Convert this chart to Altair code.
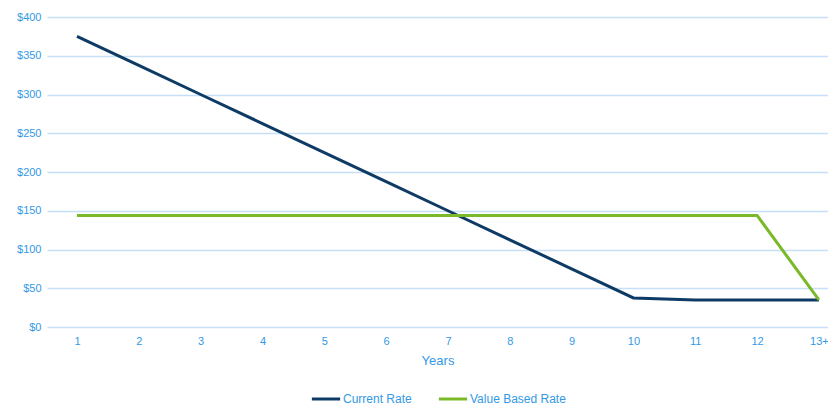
import altair as alt
import pandas as pd

years = ["1", "2", "3", "4", "5", "6", "7", "8", "9", "10", "11", "12", "13+"]
current_rate = [375, 337.5, 300, 262.5, 225, 187.5, 150, 112.5, 75, 37.5, 35, 35, 35]
value_based_rate = [144, 144, 144, 144, 144, 144, 144, 144, 144, 144, 144, 144, 35]
series_names = ["Current Rate", "Value Based Rate"]
series_colors = ["#0E3B65", "#7AB929"]

rows = []
for name, vals in zip(series_names, [current_rate, value_based_rate]):
    for i, (y, v) in enumerate(zip(years, vals)):
        rows.append({"idx": i + 1, "year": y, "value": v, "series": name})
df = pd.DataFrame(rows)

label_arr = "[" + ",".join("'" + y + "'" for y in years) + "]"
blue = "#3399E6"
font = "Liberation Sans"

chart = alt.Chart(df).mark_line(strokeWidth=3).encode(
    x=alt.X("idx:Q",
            scale=alt.Scale(domain=[0.515, 13.147], nice=False, zero=False),
            axis=alt.Axis(values=list(range(1, len(years) + 1)),
                          labelExpr=label_arr + "[datum.value - 1]",
                          title="Years", grid=False, domain=False, ticks=False,
                          labelColor=blue, labelFont=font, labelFontSize=11,
                          labelPadding=8, titleColor=blue, titleFont=font,
                          titleFontSize=13, titleFontWeight="normal", titlePadding=8)),
    y=alt.Y("value:Q",
            scale=alt.Scale(domain=[0, 400], nice=False),
            axis=alt.Axis(values=list(range(0, 401, 50)), format="$.0f", title=None,
                          domain=False, ticks=False, gridColor="#C5E0F7", gridWidth=1.5,
                          labelColor=blue, labelFont=font, labelFontSize=11, labelPadding=6)),
    color=alt.Color("series:N",
                    scale=alt.Scale(domain=series_names, range=series_colors),
                    legend=alt.Legend(orient="none", legendX=263, legendY=366,
                                      direction="horizontal", title=None,
                                      symbolType="stroke", symbolSize=800,
                                      symbolStrokeWidth=3, labelOffset=1,
                                      columnPadding=20, labelColor=blue,
                                      labelFont=font, labelFontSize=12)),
    order=alt.Order("idx:Q"),
).properties(
    width=781, height=310,
    autosize=alt.AutoSizeParams(type="none"),
    padding={"left": 39, "top": 9, "right": 0, "bottom": 82},
).configure_view(stroke=None)

chart.save("out.html", embed_options={"renderer": "svg", "actions": False})
